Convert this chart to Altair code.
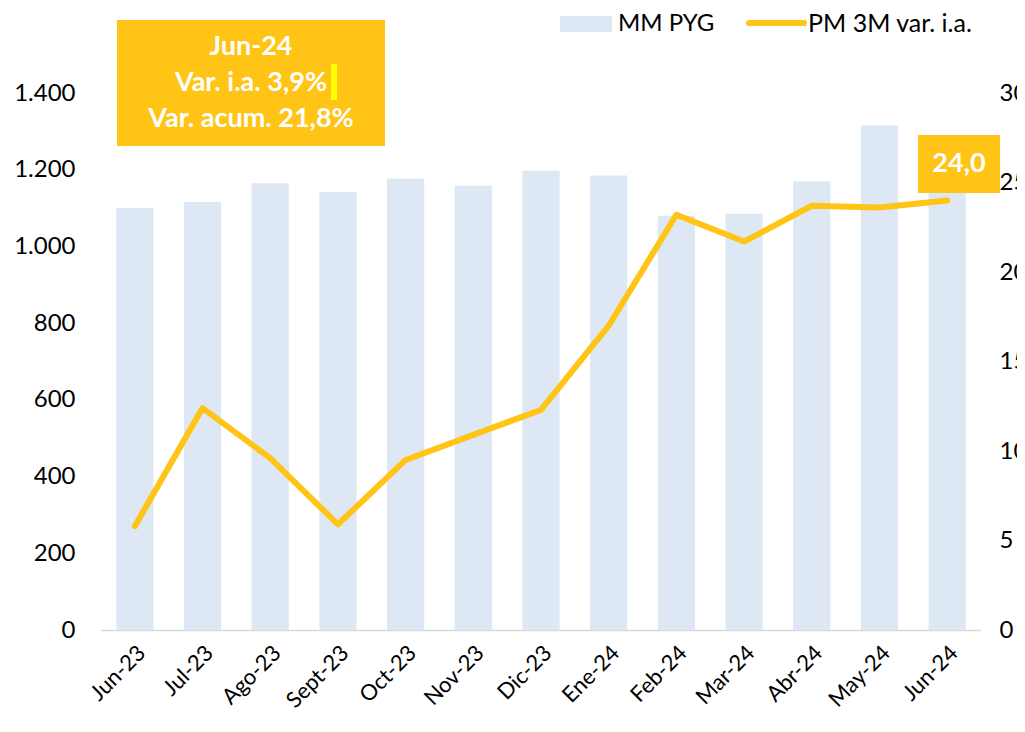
import altair as alt
import pandas as pd

# ---- data ----
months = ["Jun-23", "Jul-23", "Ago-23", "Sept-23", "Oct-23", "Nov-23", "Dic-23",
          "Ene-24", "Feb-24", "Mar-24", "Abr-24", "May-24", "Jun-24"]
mm_pyg = [1100, 1116, 1165, 1142, 1177, 1158, 1197, 1185, 1080, 1085, 1169, 1315, 1145]
pm_3m = [5.8, 12.4, 9.6, 5.9, 9.5, 10.9, 12.3, 17.0, 23.2, 21.7, 23.7, 23.6, 24.0]
left_ticks = [0, 200, 400, 600, 800, 1000, 1200, 1400]
right_ticks = [0, 5, 10, 15, 20, 25, 30]
box_lines = ["Jun-24", "Var. i.a. 3,9%", "Var. acum. 21,8%"]
last_label = "24,0"
legend_labels = ["MM PYG", "PM 3M var. i.a."]

df = pd.DataFrame({"mes": months, "mm": mm_pyg, "pm": pm_3m})
one = pd.DataFrame({"k": [0]})

FONT = "Lato"
BAR = "#DEE8F4"
GOLD = "#FFC415"

xscale = alt.Scale(type="band", paddingInner=0.45, paddingOuter=0.225)
xaxis = alt.Axis(title=None, labelAngle=-45, labelAlign="right", labelBaseline="top",
                 labelPadding=12, ticks=False, domain=True, domainColor="#D9D9D9",
                 domainWidth=1.5, labelFontSize=22, labelColor="#000000", labelFont=FONT)

bars = alt.Chart(df).mark_bar(color=BAR).encode(
    x=alt.X("mes:N", sort=months, scale=xscale, axis=xaxis),
    y=alt.Y("mm:Q", scale=alt.Scale(domain=[0, 1400], nice=False),
            axis=alt.Axis(title=None, orient="left", values=left_ticks, grid=False,
                          domain=False, ticks=False, labelPadding=26,
                          labelFontSize=24, labelColor="#000000", labelFont=FONT,
                          labelExpr="replace(format(datum.value, ',.0f'), ',', '.')")),
)

line = alt.Chart(df).mark_line(color=GOLD, strokeWidth=6, strokeCap="round",
                               strokeJoin="round").encode(
    x=alt.X("mes:N", sort=months, scale=xscale, axis=xaxis),
    y=alt.Y("pm:Q", scale=alt.Scale(domain=[0, 30], nice=False),
            axis=alt.Axis(title=None, orient="right", values=right_ticks, grid=False,
                          domain=False, ticks=False, labelPadding=18, labelAlign="left",
                          labelFontSize=24, labelColor="#000000", labelFont=FONT)),
)

# annotation box (top-left)
box = alt.Chart(one).mark_rect(color=GOLD).encode(
    x=alt.value(16), x2=alt.value(284), y=alt.value(-73), y2=alt.value(53))
cursor = alt.Chart(one).mark_rect(color="#FFFF00").encode(
    x=alt.value(230), x2=alt.value(236), y=alt.value(-29), y2=alt.value(7))
box_texts = [
    alt.Chart(one).mark_text(font=FONT, fontSize=27, fontWeight="bold", color="white",
                             align="center", baseline="middle").encode(
        x=alt.value(150), y=alt.value(yy), text=alt.value(t))
    for t, yy in zip(box_lines, [-46, -10, 26])
]

# last value label
last_box = alt.Chart(one).mark_rect(color=GOLD).encode(
    x=alt.value(817), x2=alt.value(899), y=alt.value(42), y2=alt.value(100))
last_text = alt.Chart(one).mark_text(font=FONT, fontSize=27, fontWeight="bold",
                                     color="white", align="center",
                                     baseline="middle").encode(
    x=alt.value(858), y=alt.value(71), text=alt.value(last_label))

# legend
leg_rect = alt.Chart(one).mark_rect(color=BAR).encode(
    x=alt.value(459), x2=alt.value(511), y=alt.value(-77), y2=alt.value(-61))
leg_t1 = alt.Chart(one).mark_text(font=FONT, fontSize=24, color="#000000", align="left",
                                  baseline="middle").encode(
    x=alt.value(517), y=alt.value(-69), text=alt.value(legend_labels[0]))
leg_line = alt.Chart(one).mark_rule(color=GOLD, strokeWidth=6, strokeCap="round").encode(
    x=alt.value(648), x2=alt.value(703), y=alt.value(-70))
leg_t2 = alt.Chart(one).mark_text(font=FONT, fontSize=25, color="#000000", align="left",
                                  baseline="middle").encode(
    x=alt.value(707), y=alt.value(-69), text=alt.value(legend_labels[1]))

chart = alt.layer(
    bars, line, box, cursor, *box_texts, last_box, last_text,
    leg_rect, leg_t1, leg_line, leg_t2
).resolve_scale(y="independent").properties(
    width=880, height=537,
    padding={"left": 93, "top": 85, "right": 36, "bottom": 90},
    autosize=alt.AutoSizeParams(type="none"),
).configure_view(stroke=None)

chart.save("out.html", embed_options={"renderer": "svg", "actions": False})
